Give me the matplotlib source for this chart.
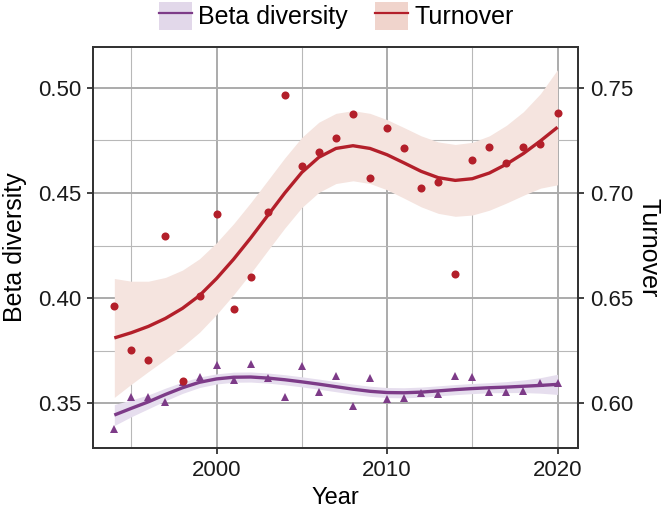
import numpy as np
import matplotlib.pyplot as plt
from matplotlib.patches import Patch
from matplotlib.lines import Line2D

plt.rcParams['font.family'] = ['Liberation Sans', 'DejaVu Sans']

# dados
anos = np.arange(1994, 2021)
beta = [0.3376, 0.3527, 0.3530, 0.3506, 0.3600, 0.3622, 0.3681, 0.3610, 0.3686,
        0.3618, 0.3527, 0.3676, 0.3554, 0.3629, 0.3486, 0.3618, 0.3518, 0.3522,
        0.3549, 0.3541, 0.3629, 0.3622, 0.3551, 0.3554, 0.3559, 0.3594, 0.3597]
turnover = [0.6463, 0.6252, 0.6205, 0.6795, 0.6105, 0.6510, 0.6898, 0.6446, 0.6599,
            0.6908, 0.7468, 0.7127, 0.7197, 0.7260, 0.7378, 0.7071, 0.7308, 0.7213,
            0.7025, 0.7051, 0.6613, 0.7156, 0.7218, 0.7141, 0.7218, 0.7235, 0.7382]

# curvas suavizadas (loess) e intervalos
beta_fit = [0.3443, 0.3475, 0.3506, 0.3541, 0.3573, 0.3599, 0.3615, 0.3623, 0.3624,
            0.3619, 0.3611, 0.3601, 0.3590, 0.3578, 0.3566, 0.3556, 0.3550, 0.3549,
            0.3552, 0.3558, 0.3564, 0.3569, 0.3573, 0.3576, 0.3580, 0.3584, 0.3589]
beta_sup = [0.3493, 0.3515, 0.3539, 0.3571, 0.3600, 0.3624, 0.3639, 0.3647, 0.3648,
            0.3643, 0.3635, 0.3625, 0.3614, 0.3602, 0.3590, 0.3580, 0.3574, 0.3573,
            0.3576, 0.3582, 0.3588, 0.3593, 0.3597, 0.3602, 0.3610, 0.3621, 0.3637]
beta_inf = [0.3393, 0.3435, 0.3473, 0.3511, 0.3546, 0.3574, 0.3591, 0.3599, 0.3600,
            0.3595, 0.3587, 0.3577, 0.3566, 0.3554, 0.3542, 0.3532, 0.3526, 0.3525,
            0.3528, 0.3534, 0.3540, 0.3545, 0.3549, 0.3550, 0.3550, 0.3547, 0.3541]
turn_fit = [0.6310, 0.6335, 0.6365, 0.6403, 0.6451, 0.6512, 0.6593, 0.6685, 0.6786,
            0.6893, 0.7000, 0.7098, 0.7170, 0.7212, 0.7225, 0.7212, 0.7182, 0.7143,
            0.7103, 0.7073, 0.7060, 0.7068, 0.7095, 0.7137, 0.7188, 0.7248, 0.7313]
turn_sup = [0.6593, 0.6580, 0.6580, 0.6598, 0.6633, 0.6687, 0.6764, 0.6854, 0.6954,
            0.7060, 0.7167, 0.7265, 0.7337, 0.7379, 0.7392, 0.7379, 0.7349, 0.7311,
            0.7272, 0.7243, 0.7231, 0.7241, 0.7272, 0.7322, 0.7387, 0.7473, 0.7587]
turn_inf = [0.6027, 0.6090, 0.6150, 0.6208, 0.6269, 0.6337, 0.6422, 0.6516, 0.6618,
            0.6726, 0.6833, 0.6931, 0.7003, 0.7045, 0.7058, 0.7045, 0.7015, 0.6975,
            0.6934, 0.6903, 0.6889, 0.6895, 0.6918, 0.6952, 0.6989, 0.7023, 0.7039]

cor_beta = '#7d3b88'
cor_turn = '#b31f2a'
fill_beta = '#e6deee'
fill_turn = '#f5e4df'

fig = plt.figure(figsize=(6.62, 5.09), dpi=100)
ax = fig.add_axes([0.1405, 0.1198, 0.7326, 0.7879])
ax2 = ax.twinx()

ax.fill_between(anos, beta_inf, beta_sup, color=fill_beta, lw=0, zorder=2)
ax.plot(anos, beta_fit, color=cor_beta, lw=2.4, zorder=3, solid_capstyle='butt',
        solid_joinstyle='round')
ax.plot(anos, beta, '^', color=cor_beta, ms=5.5, mew=0, zorder=4)

ax2.fill_between(anos, turn_inf, turn_sup, color=fill_turn, lw=0, zorder=2)
ax2.plot(anos, turn_fit, color=cor_turn, lw=2.4, zorder=3, solid_capstyle='butt',
         solid_joinstyle='round')
ax2.plot(anos, turnover, 'o', color=cor_turn, ms=5.8, mew=0, zorder=4)

ax.set_xlim(1992.75, 2021.2)
ax.set_ylim(0.3286, 0.5195)
ax2.set_ylim(0.3286 + 0.25, 0.5195 + 0.25)

ax.set_xticks([2000, 2010, 2020])
ax.set_xticks([1995, 2005, 2015], minor=True)
ax.set_yticks([0.35, 0.40, 0.45, 0.50])
ax.set_yticks([0.375, 0.425, 0.475], minor=True)
ax2.set_yticks([0.60, 0.65, 0.70, 0.75])
ax.set_yticklabels(['0.35', '0.40', '0.45', '0.50'])
ax2.set_yticklabels(['0.60', '0.65', '0.70', '0.75'])

ax.grid(which='major', color='#ababab', lw=1.4, zorder=0)
ax.grid(which='minor', color='#b8b8b8', lw=0.8, zorder=0)
ax.set_axisbelow(True)

for a in (ax, ax2):
    for s in a.spines.values():
        s.set_color('#333333')
        s.set_linewidth(1.3)
    a.tick_params(which='major', length=4.5, width=1.3, color='#333333',
                  labelsize=16, labelcolor='#1a1a1a', pad=4)
    a.tick_params(which='minor', length=0)

ax.set_xlabel('Year', fontsize=17, labelpad=4.5)
ax.set_ylabel('Beta diversity', fontsize=18, labelpad=8)
ax2.set_ylabel('Turnover', fontsize=18, rotation=270, labelpad=20)

handles = [(Patch(facecolor='#e2d8ea', edgecolor='none'), Line2D([], [], color=cor_beta, lw=1.6)),
           (Patch(facecolor='#f0d4cc', edgecolor='none'), Line2D([], [], color=cor_turn, lw=1.6))]
fig.legend(handles, ['Beta diversity', 'Turnover'], loc='center', ncol=2,
           bbox_to_anchor=(336 / 662, 1 - 16 / 509), frameon=False, fontsize=18,
           handlelength=1.32, handleheight=1.4, handletextpad=0.25, columnspacing=1.1,
           borderaxespad=0, borderpad=0)

fig.savefig('out.png', dpi=100)
